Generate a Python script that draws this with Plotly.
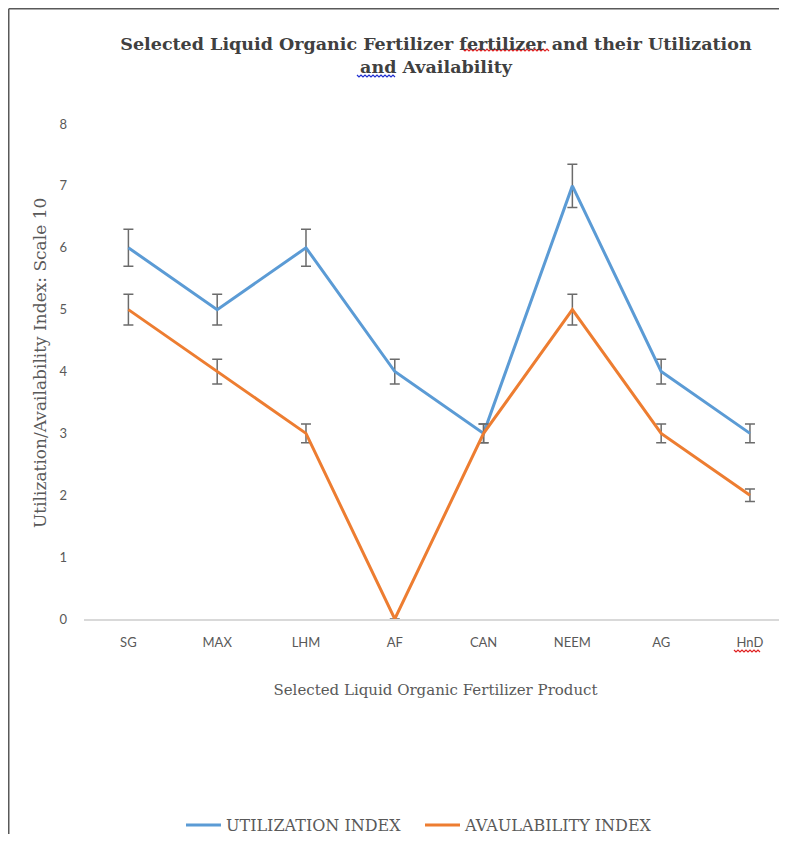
import plotly.graph_objects as go

categories = ["SG", "MAX", "LHM", "AF", "CAN", "NEEM", "AG", "HnD"]
utilization = [6, 5, 6, 4, 3, 7, 4, 3]
availability = [5, 4, 3, 0, 3, 5, 3, 2]
error_percent = 5
y_ticks = [0, 1, 2, 3, 4, 5, 6, 7, 8]

# page body has an 8px margin; work in reference pixels minus 8
OFF = 8
W, H = 779, 826
L, R, T = 84 - OFF, 0, 124 - OFF
B = H - (619 - OFF)
pw, ph = W - L - R, H - T - B

def px_x(p):
    return (p - OFF - L) / pw

def px_y(p):
    return (H - B - (p - OFF)) / ph

def wavy(x0, x1, y, color):
    pts = []
    x = x0
    up = True
    while x <= x1:
        pts.append((px_x(x), px_y(y - 1 if up else y + 1)))
        up = not up
        x += 2
    d = "M " + " L ".join(f"{a:.5f},{b:.5f}" for a, b in pts)
    return dict(type="path", xref="paper", yref="paper", path=d, line=dict(color=color, width=1.2))

err_style = dict(type="percent", value=error_percent, color="#6b6b6b", thickness=1.5, width=5)

fig = go.Figure()
fig.add_trace(go.Scatter(x=list(range(len(categories))), y=utilization, mode="lines",
                         name="UTILIZATION INDEX", line=dict(color="#5B9BD5", width=3),
                         error_y=err_style))
fig.add_trace(go.Scatter(x=list(range(len(categories))), y=availability, mode="lines",
                         name="AVAULABILITY INDEX", line=dict(color="#ED7D31", width=3),
                         error_y=err_style))

fig.update_layout(
    width=W, height=H,
    margin=dict(l=L, r=R, t=T, b=B, autoexpand=False),
    paper_bgcolor="white", plot_bgcolor="white",
    title=dict(text="<b>Selected Liquid Organic Fertilizer fertilizer and their Utilization<br>and Availability</b>",
               x=(436 - OFF) / W, xanchor="center", xref="container",
               y=1 - (50 - OFF) / H, yanchor="middle", yref="container",
               font=dict(family="DejaVu Serif", size=17.5, color="#404040")),
    xaxis=dict(tickmode="array", tickvals=list(range(len(categories))), ticktext=categories,
               range=[-0.5, 7 + (787 - 750) / 88.7], showgrid=False, zeroline=False,
               showline=True, linecolor="#d9d9d9", linewidth=1.5, ticks="",
               tickfont=dict(family="Lato", size=13, color="#595959"), ticklabelstandoff=11,
               title=dict(text="Selected Liquid Organic Fertilizer Product", standoff=35,
                          font=dict(family="DejaVu Serif", size=15, color="#595959"))),
    yaxis=dict(range=[0, 8], tickvals=y_ticks, showgrid=False, zeroline=False, showline=False,
               ticks="", tickfont=dict(family="Lato", size=13, color="#595959"), ticklabelstandoff=16),
    legend=dict(orientation="h", x=px_x(420), xanchor="center", y=px_y(825), yanchor="middle",
                font=dict(family="DejaVu Serif", size=16, color="#595959"),
                itemwidth=35, entrywidth=189, tracegroupgap=0, bgcolor="rgba(0,0,0,0)"),
    showlegend=True,
)

fig.add_annotation(text="Utilization/Availability Index: Scale 10", textangle=-90,
                   xref="paper", yref="paper", x=px_x(40), y=px_y(363),
                   xanchor="center", yanchor="middle", showarrow=False,
                   font=dict(family="DejaVu Serif", size=17, color="#595959"))

fig.add_shape(type="line", xref="paper", yref="paper", x0=px_x(8.75), x1=px_x(800), y0=px_y(8.75), y1=px_y(8.75),
              line=dict(color="#595959", width=1.5))
fig.add_shape(type="line", xref="paper", yref="paper", x0=px_x(8.75), x1=px_x(8.75), y0=px_y(8.75), y1=px_y(850),
              line=dict(color="#595959", width=1.5))

fig.add_shape(**wavy(463, 550, 50, "#e02020"))
fig.add_shape(**wavy(357, 395, 76, "#2030d0"))
fig.add_shape(**wavy(734, 761, 651, "#e02020"))

fig.write_html("out.html")
